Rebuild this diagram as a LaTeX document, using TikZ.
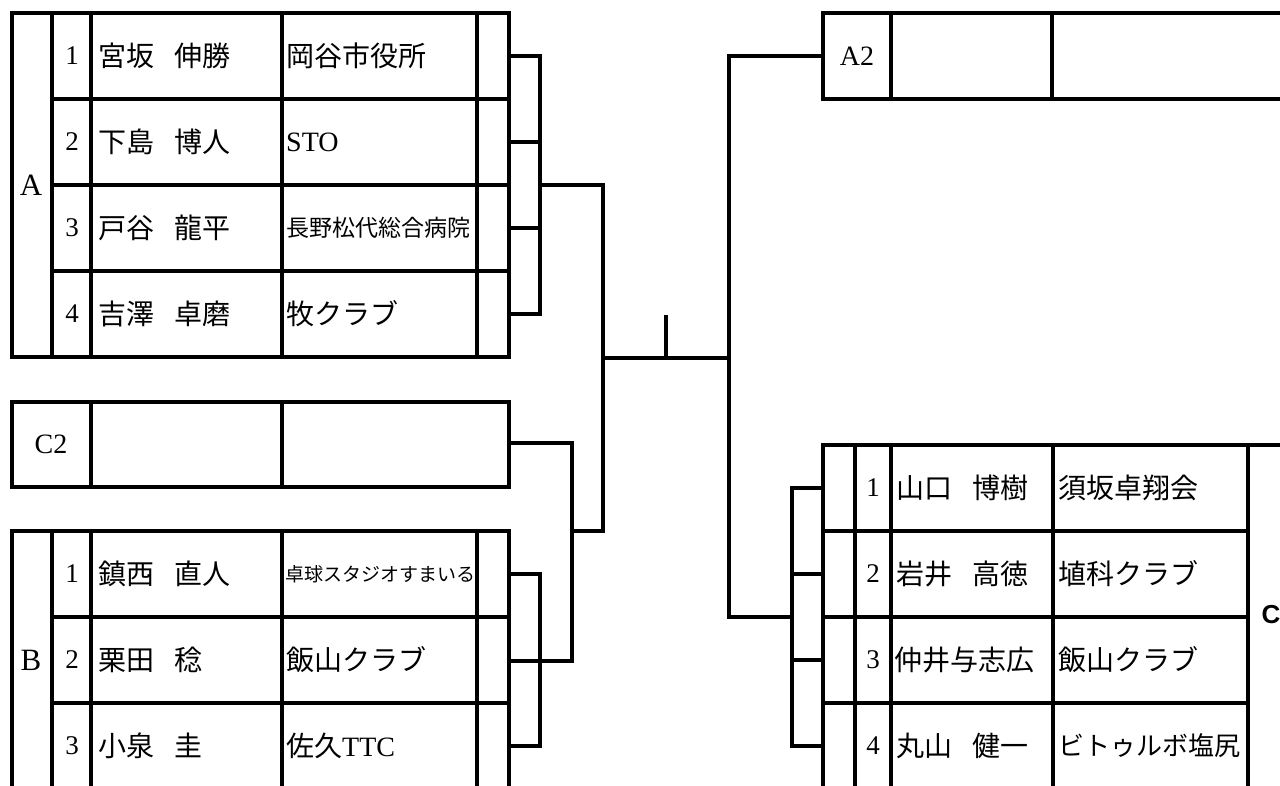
\documentclass[tikz,border=0pt]{standalone}
\usepackage{fontspec}
\setmainfont{Liberation Serif}
\newfontfamily\jpfont{Noto Sans CJK JP}
\newfontfamily\sansfont{Liberation Sans}
\newcommand{\gapjp}{\hspace{20pt}}
\begin{document}
\begin{tikzpicture}[x=1pt,y=-1pt,
  ln/.style={line width=3.2pt},
  num/.style={font=\fontsize{27}{30}\selectfont, inner sep=0pt},
  nm/.style={font=\jpfont\fontsize{28}{32}\selectfont, anchor=west, inner sep=0pt},
  club/.style={font=\jpfont\fontsize{28}{32}\selectfont, anchor=west, inner sep=0pt},
  clublat/.style={font=\rmfamily\fontsize{28}{32}\selectfont, anchor=west, inner sep=0pt},
  grp/.style={font=\fontsize{31}{34}\selectfont, inner sep=0pt},
  seed/.style={font=\fontsize{28}{32}\selectfont, inner sep=0pt}]
\useasboundingbox (0,0) rectangle (1280,785);
\clip (0,0) rectangle (1280,785);

% ---------------- Table A ----------------
\draw[ln] (12,13) rectangle (509,357);
\foreach \x in {52,91,282,477} \draw[ln] (\x,13) -- (\x,357);
\foreach \y in {99,185,271} \draw[ln] (52,\y) -- (509,\y);
\node[grp] (gA) at (31,185) {A};
\node[num] (a1n) at (72,56) {1};
\node[num] (a2n) at (72,142) {2};
\node[num] (a3n) at (72,228) {3};
\node[num] (a4n) at (72,314) {4};
\node[nm] (a1p) at (98,56) {宮坂\gapjp 伸勝};
\node[nm] (a2p) at (98,142) {下島\gapjp 博人};
\node[nm] (a3p) at (98,228) {戸谷\gapjp 龍平};
\node[nm] (a4p) at (98,314) {吉澤\gapjp 卓磨};
\node[club] (a1c) at (286,56) {岡谷市役所};
\node[clublat] (a2c) at (286,142) {STO};
\node[club, font=\jpfont\fontsize{23}{26}\selectfont] (a3c) at (286,228) {長野松代総合病院};
\node[club] (a4c) at (286,314) {牧クラブ};

% ---------------- C2 box ----------------
\draw[ln] (12,402) rectangle (509,487);
\foreach \x in {91,282} \draw[ln] (\x,402) -- (\x,487);
\node[seed] (c2) at (51,444) {C2};

% ---------------- Table B ----------------
\draw[ln] (12,800) -- (12,531) -- (509,531) -- (509,800);
\foreach \x in {52,91,282,477} \draw[ln] (\x,531) -- (\x,800);
\foreach \y in {617,703} \draw[ln] (52,\y) -- (509,\y);
\node[grp] (gB) at (31,660) {B};
\node[num] (b1n) at (72,574) {1};
\node[num] (b2n) at (72,660) {2};
\node[num] (b3n) at (72,746) {3};
\node[nm] (b1p) at (98,574) {鎮西\gapjp 直人};
\node[nm] (b2p) at (98,660) {栗田\gapjp 稔};
\node[nm] (b3p) at (98,746) {小泉\gapjp 圭};
\node[club, font=\jpfont\fontsize{19}{22}\selectfont] (b1c) at (285,574) {卓球スタジオすまいる};
\node[club] (b2c) at (286,660) {飯山クラブ};
\node[club] (b3c) at (286,746) {佐久\rmfamily TTC};

% ---------------- A2 box ----------------
\draw[ln] (1300,13) -- (823,13) -- (823,99) -- (1300,99);
\foreach \x in {891,1052} \draw[ln] (\x,13) -- (\x,99);
\node[seed] (a2) at (857,56) {A2};

% ---------------- Table C ----------------
\draw[ln] (823,800) -- (823,445) -- (1300,445);
\foreach \x in {855,891,1053,1248} \draw[ln] (\x,445) -- (\x,800);
\foreach \y in {531,617,703} \draw[ln] (823,\y) -- (1248,\y);
\node[font=\sansfont\bfseries\fontsize{26}{30}\selectfont, inner sep=0pt] (gC) at (1271,615) {C};
\node[num] (c1n) at (873,488) {1};
\node[num] (c2n) at (873,574) {2};
\node[num] (c3n) at (873,660) {3};
\node[num] (c4n) at (873,746) {4};
\node[nm] (c1p) at (896,488) {山口\gapjp 博樹};
\node[nm] (c2p) at (896,574) {岩井\gapjp 高徳};
\node[nm] (c3p) at (894,660) {仲井与志広};
\node[nm] (c4p) at (896,746) {丸山\gapjp 健一};
\node[club] (c1c) at (1058,488) {須坂卓翔会};
\node[club] (c2c) at (1058,574) {埴科クラブ};
\node[club] (c3c) at (1058,660) {飯山クラブ};
\node[club, font=\jpfont\fontsize{26}{30}\selectfont] (c4c) at (1058,746) {ビトゥルボ塩尻};

% ---------------- bracket coordinates ----------------
\coordinate (pa1) at (509,56);
\coordinate (pa2) at (509,142);
\coordinate (pa3) at (509,228);
\coordinate (pa4) at (509,314);
\coordinate (ja) at (540,185);
\coordinate (pc2) at (509,443);
\coordinate (pb1) at (509,574);
\coordinate (pb2) at (509,661);
\coordinate (pb3) at (509,746);
\coordinate (jcb) at (572,531);
\coordinate (jl) at (603,358);
\coordinate (jr) at (729,358);
\coordinate (tk) at (666,315);
\coordinate (pa2r) at (823,56);
\coordinate (jc) at (792,617);
\coordinate (pc1) at (823,488);
\coordinate (pcc2) at (823,574);
\coordinate (pc3) at (823,660);
\coordinate (pc4) at (823,746);

% group A bracket
\draw[ln] (pa1) -| (540,314) -- (pa4);
\draw[ln] (pa2) -- (540,142);
\draw[ln] (pa3) -- (540,228);
\draw[ln] (ja) -| (603,531) -- (jcb);
% C2 / B
\draw[ln] (pc2) -| (572,661) -- (pb2);
\draw[ln] (pb1) -| (540,746) -- (pb3);
% final
\draw[ln] (jl) -- (jr);
\draw[ln] (tk) -- (tk |- jl);
\draw[ln] (pa2r) -| (729,617) -- (jc);
% group C bracket
\draw[ln] (pc1) -| (792,746) -- (pc4);
\draw[ln] (792,574) -- (pcc2);
\draw[ln] (792,660) -- (pc3);
\end{tikzpicture}
\end{document}
